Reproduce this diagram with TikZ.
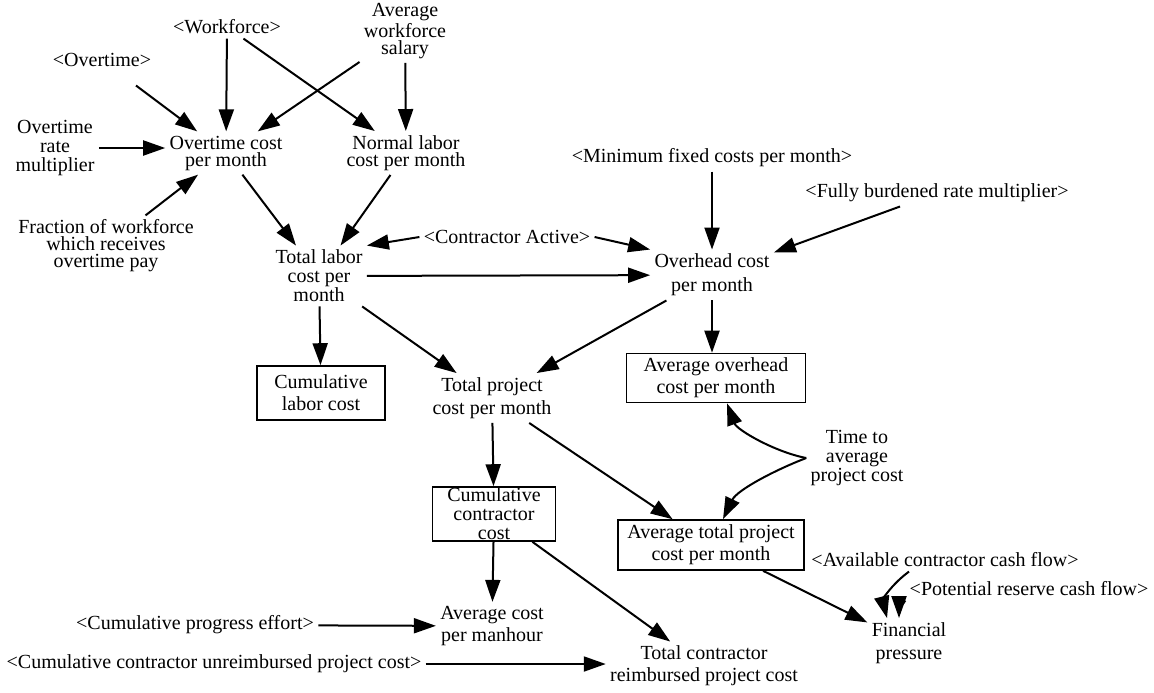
\documentclass[tikz,border=0pt]{standalone}
\usepackage{fontspec}
\setmainfont{Liberation Serif}
\usetikzlibrary{arrows.meta,calc}

\begin{document}
\begin{tikzpicture}[x=0.5pt, y=-0.5pt,
                    var/.style={align=center, inner sep=2pt, font=\fontsize{10}{11}\selectfont},
                    snug/.style={var, font=\fontsize{10}{8.5}\selectfont},
                    squeezed/.style={var, font=\fontsize{10}{9.5}\selectfont},
                    ghost/.style={var},
                    stock/.style={var, draw, line width=0.8pt, inner sep=0pt},
                    link/.style={-{Triangle[length=11pt,width=7.5pt]}, line width=1pt}]
\useasboundingbox (0,0) rectangle (1154,692);

% labour costs
\node[ghost] (wf) at (227,27) {<Workforce>};
\node[ghost] (ot) at (102,60) {<Overtime>};
\node[snug] (salary) at (405,31) {Average\\workforce\\salary};
\node[var, font=\fontsize{10}{9.5}\selectfont] (orate) at (55,148) {Overtime\\rate\\multiplier};
\node[snug] (ocost) at (226,153) {Overtime cost\\per month};
\node[snug] (normal) at (406,153) {Normal labor\\cost per month};
\node[snug] (frac) at (106,246) {Fraction of workforce\\which receives\\overtime pay};
\node[squeezed] (totlab) at (319,276) {Total labor\\cost per\\month};
\node[stock, minimum width=64pt, minimum height=27pt] (cumlab) at (321,393) {Cumulative\\labor cost};

% overhead
\node[ghost] (active) at (507,237) {<Contractor Active>};
\node[ghost] (minfix) at (712,158) {<Minimum fixed costs per month>};
\node[ghost] (fully) at (937,193) {<Fully burdened rate multiplier>};
\node[var, font=\fontsize{10}{12}\selectfont] (overhead) at (712,275) {Overhead cost\\per month};
\node[stock, minimum width=89.5pt, minimum height=24.5pt] (avgoh) at (716,378) {Average overhead\\cost per month};

% project totals
\node[var, font=\fontsize{10}{11.5}\selectfont] (totproj) at (492,398) {Total project\\cost per month};
\node[var, font=\fontsize{10}{9.5}\selectfont] (time) at (857,458) {Time to\\average\\project cost};
\node[stock, font=\fontsize{10}{9.5}\selectfont, minimum width=61.5pt, minimum height=27pt] (cumcon) at (494,514) {Cumulative\\contractor\\cost};
\node[stock, minimum width=93pt, minimum height=25pt] (avgtot) at (711,545) {Average total project\\cost per month};
\node[ghost] (avail) at (945,560) {<Available contractor cash flow>};
\node[ghost] (pot) at (1029,589) {<Potential reserve cash flow>};
\node[ghost] (progress) at (195,625) {<Cumulative progress effort>};
\node[var] (avgcost) at (492,626) {Average cost\\per manhour};
\node[ghost] (unreimb) at (214,664) {<Cumulative contractor unreimbursed project cost>};
\node[var] (totcon) at (704,666) {Total contractor\\reimbursed project cost};
\node[var, font=\fontsize{10}{11.5}\selectfont] (fin) at (909,643) {Financial\\pressure};

\draw[link, shorten <=12pt] (ot) -- (ocost);
\draw[link] (wf) -- (ocost);
\draw[link] (wf) -- (normal);
\draw[link] (salary) -- (ocost);
\draw[link] (salary) -- (normal);
\draw[link] (orate) -- (orate -| ocost.west);
\draw[link] (frac) -- (ocost);
\draw[link] (ocost) -- (totlab);
\draw[link] (normal) -- (totlab);
\draw[link] (active.west) -- (totlab.north east);
\draw[link] (active.east) -- (overhead.north west);
\draw[link] (totlab) -- (overhead);
\draw[link] (minfix) -- (overhead);
\draw[link] (fully) -- (overhead);
\draw[link] (totlab) -- (cumlab);
\draw[link] (totlab) -- (totproj);
\draw[link] (overhead) -- (totproj);
\draw[link] (overhead) -- (overhead |- avgoh.north);
\draw[link] (totproj) -- (cumcon);
\draw[link] (totproj) -- (avgtot);
\draw[link] (time.west) .. controls (775,452) and (737,430) .. ($(avgoh.south)+(11,0)$);
\draw[link] (time.west) .. controls (775,470) and (737,490) .. ($(avgtot.north)+(12,0)$);
\draw[link] (cumcon) -- (avgcost);
\draw[link] (cumcon) -- (totcon);
\draw[link] (progress) -- (avgcost);
\draw[link] (unreimb) -- (unreimb -| totcon.west);
\draw[link] (avgtot) -- (fin);
\draw[link] ($(avail.south)+(-36,0)$) .. controls (887,588) and (883,602) .. ($(fin.north)+(-22,0)$);
\draw[link] (pot.south west) .. controls (903,604) and (899,610) .. ($(fin.north)+(-10,0)$);
\end{tikzpicture}
\end{document}
